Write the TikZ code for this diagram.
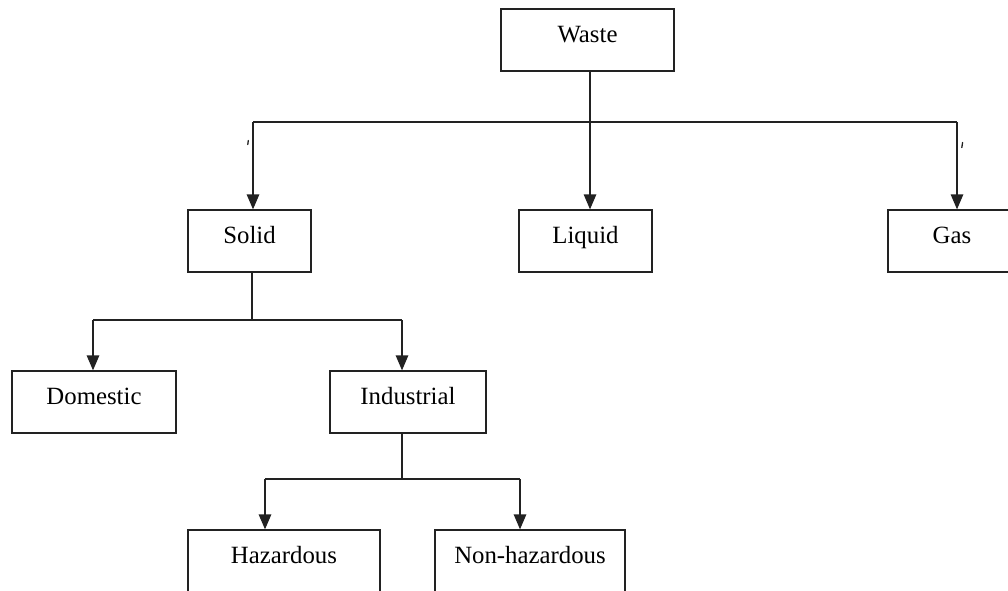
\documentclass[tikz,border=0pt]{standalone}
\usepackage{fontspec}
\setmainfont{Liberation Serif}
\usetikzlibrary{arrows.meta}
\definecolor{ink}{RGB}{34,34,34}
\tikzset{
  box/.style={draw=ink, line width=1.3pt, fill=white, rectangle,
    minimum height=62pt, inner sep=0pt,
    text height=4pt, text depth=0pt,
    font=\fontsize{24.8}{30}\selectfont},
  link/.style={draw=ink, line width=1.3pt},
  arr/.style={link, -{Triangle[length=15pt, width=12.5pt]}},
  tick/.style={draw=ink, line width=1.3pt, line cap=round}
}
\begin{document}
\begin{tikzpicture}[x=1pt, y=-1pt]
  \useasboundingbox (0,0) rectangle (1008,590);
  \clip (0,0) rectangle (1008,590);

  % boxes
  \node[box, minimum width=173pt] (waste)  at (587.5,40)  {Waste};
  \node[box, minimum width=123pt] (solid)  at (249.5,241) {Solid};
  \node[box, minimum width=133pt] (liquid) at (585.5,241) {Liquid};
  \node[box, minimum width=128pt] (gas)    at (952,241)   {Gas};
  \node[box, minimum width=164pt] (dom)    at (94,402)    {Domestic};
  \node[box, minimum width=156pt] (ind)    at (408,402)   {Industrial};
  \node[box, minimum width=192pt] (haz)    at (284,561)   {Hazardous};
  \node[box, minimum width=190pt] (nonhaz) at (530,561)   {Non-hazardous};

  % junction points of the branch lines
  \coordinate (jw) at (590,122);
  \coordinate (js) at (253,122);
  \coordinate (jg) at (957,122);
  \coordinate (ks) at (252,320);
  \coordinate (kd) at (93,320);
  \coordinate (ki) at (402,320);
  \coordinate (mi) at (402,479);
  \coordinate (mh) at (265,479);
  \coordinate (mn) at (520,479);

  % Waste -> Solid / Liquid / Gas
  \draw[link] (waste.south -| jw) -- (jw);
  \draw[link] (js) -- (jg);
  \draw[arr] (js) -- (js |- solid.north);
  \draw[arr] (jw) -- (jw |- liquid.north);
  \draw[arr] (jg) -- (jg |- gas.north);

  % Solid -> Domestic / Industrial
  \draw[link] (solid.south -| ks) -- (ks);
  \draw[link] (kd) -- (ki);
  \draw[arr] (kd) -- (kd |- dom.north);
  \draw[arr] (ki) -- (ki |- ind.north);

  % Industrial -> Hazardous / Non-hazardous
  \draw[link] (ind.south -| mi) -- (mi);
  \draw[link] (mh) -- (mn);
  \draw[arr] (mh) -- (mh |- haz.north);
  \draw[arr] (mn) -- (mn |- nonhaz.north);

  % small stray marks beside the outer branches
  \draw[tick] (248.3,140.5) -- (247.8,144.5);
  \draw[tick] (962.6,142.5) -- (961.8,147.5);
\end{tikzpicture}
\end{document}
